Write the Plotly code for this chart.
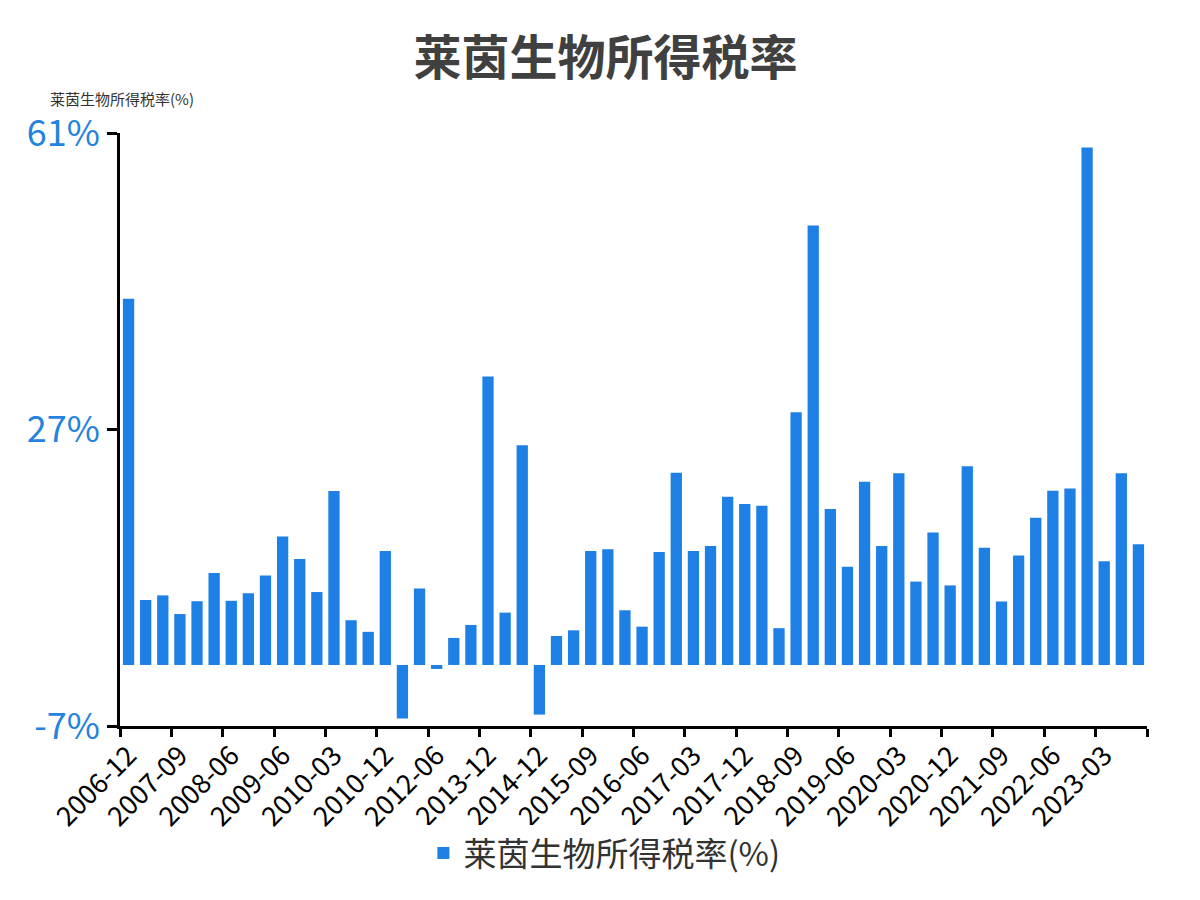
import plotly.graph_objects as go

# quarterly reporting periods (irregular in places)
periods = [
    "2006-12", "2007-03", "2007-06", "2007-09", "2007-12", "2008-03",
    "2008-06", "2008-12", "2009-03", "2009-06", "2009-09", "2009-12",
    "2010-03", "2010-06", "2010-09", "2010-12", "2011-12", "2012-03",
    "2012-06", "2012-12", "2013-06", "2013-12", "2014-06", "2014-09",
    "2014-12", "2015-03", "2015-06", "2015-09", "2015-12", "2016-03",
    "2016-06", "2016-09", "2016-12", "2017-03", "2017-06", "2017-09",
    "2017-12", "2018-03", "2018-06", "2018-09", "2018-12", "2019-03",
    "2019-06", "2019-09", "2019-12", "2020-03", "2020-06", "2020-09",
    "2020-12", "2021-03", "2021-06", "2021-09", "2021-12", "2022-03",
    "2022-06", "2022-09", "2022-12", "2023-03", "2023-06", "2023-09",
]

# income tax rate, %
tax_rate = [
    42.0, 7.45, 7.98, 5.84, 7.31, 10.54,
    7.36, 8.21, 10.26, 14.72, 12.16, 8.36,
    19.94, 5.13, 3.80, 13.06, -6.14, 8.76,
    -0.46, 3.10, 4.59, 33.09, 6.0, 25.18,
    -5.69, 3.32, 3.97, 13.07, 13.26, 6.27,
    4.39, 12.95, 22.05, 13.07, 13.64, 19.30,
    18.46, 18.27, 4.22, 28.98, 50.4, 17.87,
    11.26, 21.0, 13.63, 21.98, 9.56, 15.19,
    9.12, 22.79, 13.45, 7.28, 12.56, 16.89,
    19.97, 20.24, 59.34, 11.89, 21.98, 13.85,
]

y_ticks = [-7, 27, 61]
y_tick_text = ["-7%", "27%", "61%"]

series_name = "莱茵生物所得税率(%)"
title = "莱茵生物所得税率"

BLUE = "#1e80e5"
FONT = "Noto Sans CJK SC"

fig = go.Figure()
fig.add_trace(go.Bar(
    x=periods, y=tax_rate, name=series_name,
    marker=dict(color=BLUE, line=dict(width=0)),
    width=0.66,
))

# the page body adds an 8px offset, so margins are shifted to compensate
fig.update_layout(
    width=1200, height=900,
    margin=dict(l=112, r=61, t=125, b=182, autoexpand=False),
    paper_bgcolor="white", plot_bgcolor="white",
    font=dict(family=FONT, color="#333333"),
    title=dict(text=f"<b>{title}</b>", x=0.498, xanchor="center",
               y=1 - 50 / 900, yanchor="middle", yref="container",
               font=dict(size=48, color="#404040", family=FONT)),
    showlegend=True,
    legend=dict(orientation="h", x=0.497, xanchor="center", xref="container",
                y=1 - 845 / 900, yanchor="middle", yref="container",
                font=dict(size=33, color="#333333", family=FONT),
                itemwidth=30),
    bargap=0.34,
)

fig.update_xaxes(
    type="category", automargin=False,
    showline=True, linecolor="black", linewidth=3,
    ticks="outside", ticklen=8, tickwidth=3, tickcolor="black",
    tickson="boundaries", dtick=3, tick0=0,
    tickangle=-45, tickfont=dict(size=27, color="black", family=FONT),
    showgrid=False, zeroline=False,
    range=[-0.5, len(periods) - 0.5],
)

fig.update_yaxes(
    automargin=False,
    range=[y_ticks[0], y_ticks[-1]],
    tickvals=y_ticks, ticktext=y_tick_text,
    showline=True, linecolor="black", linewidth=3,
    ticks="outside", ticklen=10, tickwidth=3, tickcolor="black",
    tickfont=dict(size=36, color="#2383de", family=FONT),
    showgrid=False, zeroline=False,
)

fig.add_annotation(
    text=series_name, xref="paper", yref="paper",
    x=-72 / 1027, y=1.037, xanchor="left", yanchor="bottom",
    showarrow=False, font=dict(size=15, color="#333333", family=FONT),
)

fig.write_html("out.html")
